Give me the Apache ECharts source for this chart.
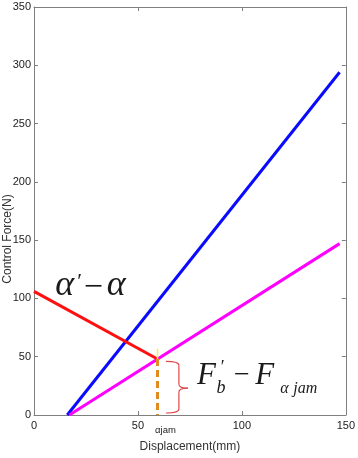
<!DOCTYPE html>
<html><head><meta charset="utf-8">
<script src="https://cdn.jsdelivr.net/npm/echarts@6/dist/echarts.min.js"></script>
<style>html,body{margin:0;padding:0;background:#fff}#c{width:358px;height:458px}</style>
</head><body><div id="c"></div>
<script>
// ---- data ----
var xTicks = [0, 50, 100, 150];
var yTicks = [0, 50, 100, 150, 200, 250, 300, 350];
var blueX = [16, 147];
var blueY = [0, 294];
var magentaX = [17, 147];
var magentaY = [0, 147];
var redX = [0, 59.4];
var redY = [106, 48];
var jamX = 59.4;
var jamDashY = [48, 0];
var jamMarkY = [57, 48];
var xName = 'Displacement(mm)';
var yName = 'Control Force(N)';
var jamLabel = 'αjam';

function pairs(xs, ys){ return xs.map(function(x,i){ return [x, ys[i]]; }); }

var chart = echarts.init(document.getElementById('c'), null, {renderer:'canvas'});
var axisCol = '#7f7f7f';
var labStyle = {color:'#222', fontSize:11, fontFamily:'Liberation Sans, Arial'};
function axisBase(){
  return {
    axisLine:{show:true, onZero:false, lineStyle:{color:axisCol, width:1}},
    axisTick:{show:true, inside:true, length:4, lineStyle:{color:axisCol}},
    splitLine:{show:false}
  };
}
var option = {
  animation:false,
  backgroundColor:'#fff',
  grid:{left:34, right:10, top:7, bottom:41},
  xAxis:[
    Object.assign(axisBase(), {type:'value', min:xTicks[0], max:xTicks[xTicks.length-1], interval:50, position:'bottom',
     axisLabel:{show:true, margin:5, color:labStyle.color, fontSize:labStyle.fontSize, fontFamily:labStyle.fontFamily},
     name:xName, nameLocation:'middle', nameGap:26,
     nameTextStyle:{color:'#333', fontSize:12, fontFamily:'Liberation Sans, Arial'}}),
    Object.assign(axisBase(), {type:'value', min:xTicks[0], max:xTicks[xTicks.length-1], interval:50, position:'top',
     axisLabel:{show:false}})
  ],
  yAxis:[
    Object.assign(axisBase(), {type:'value', min:yTicks[0], max:yTicks[yTicks.length-1], interval:50, position:'left',
     axisLabel:{show:true, margin:3, color:labStyle.color, fontSize:labStyle.fontSize, fontFamily:labStyle.fontFamily}}),
    Object.assign(axisBase(), {type:'value', min:yTicks[0], max:yTicks[yTicks.length-1], interval:50, position:'right',
     axisLabel:{show:false}})
  ],
  series:[
    {type:'line', data:pairs(blueX, blueY), symbol:'none', lineStyle:{color:'#0a0aff', width:3}},
    {type:'line', data:pairs(magentaX, magentaY), symbol:'none', lineStyle:{color:'#ff00ff', width:3}},
    {type:'line', data:pairs(redX, redY), symbol:'none', lineStyle:{color:'#ff1010', width:3}},
    {type:'line', data:pairs([jamX, jamX], jamDashY), symbol:'none', lineStyle:{color:'#e08a20', width:3, type:[7,4]}},
    {type:'line', data:pairs([jamX, jamX], jamMarkY), symbol:'none', lineStyle:{color:'#f6ee4a', width:1.5}}
  ]
};
chart.setOption(option);

function P(x, y){ return chart.convertToPixel({gridIndex:0}, [x, y]); }
var serif = 'Liberation Serif, Times New Roman, serif';
function txt(s, x, y, size, italic, color){
  var p = P(x, y);
  return {type:'text', x:p[0], y:p[1], silent:true,
    style:{text:s, fill:color||'#1a1a1a', font:(italic?'italic ':'')+size+'px '+serif,
      textAlign:'center', textVerticalAlign:'middle'}};
}
// brace in data coordinates
var bL = 63.5, bS = 69.7, bT = 74, yTop = 46, yBot = 1.7, yMid = 23;
var pTL = P(bL, yTop), pTS = P(bS, yTop), pMS = P(bS, yMid), pTip = P(bT, yMid), pBS = P(bS, yBot), pBL = P(bL, yBot);
var r = 4;
var bs = {stroke:'#e04848', lineWidth:1.2, fill:null};
function bez(a, c, b){ return {type:'bezierCurve', silent:true, shape:{x1:a[0], y1:a[1], cpx1:c[0], cpy1:c[1], x2:b[0], y2:b[1]}, style:bs}; }
function seg(a, b){ return {type:'line', silent:true, shape:{x1:a[0], y1:a[1], x2:b[0], y2:b[1]}, style:bs}; }
var brace = [
  bez(pTL, pTS, [pTS[0], pTS[1]+r]),
  seg([pTS[0], pTS[1]+r], [pMS[0], pMS[1]-r]),
  bez([pMS[0], pMS[1]-r], pMS, pTip),
  bez(pTip, pMS, [pMS[0], pMS[1]+r]),
  seg([pMS[0], pMS[1]+r], [pBS[0], pBS[1]-r]),
  bez([pBS[0], pBS[1]-r], pBS, pBL)
];

var pj = P(jamX, 0);
var g = brace.concat([
  // alpha' - alpha
  txt('α', 14.8, 111, 36, true),
  txt('′', 22.0, 113.5, 22, false),
  txt('−', 28.6, 108.5, 34, false),
  txt('α', 39.6, 111, 36, true),
  // F_b' - F_alpha jam
  txt('F', 83, 34, 31, true),
  txt('b', 90, 23, 18, true),
  txt('′', 90.8, 40.5, 18, false),
  txt('−', 100, 34, 28, false),
  txt('F', 111, 34, 31, true),
  txt('α', 120.5, 22.5, 16, true),
  txt('jam', 130.5, 22.5, 16, true),
  {type:'text', x:pj[0]+8, y:pj[1]+15, silent:true,
   style:{text:jamLabel, fill:'#222', font:'9.5px Liberation Sans, Arial', textAlign:'center', textVerticalAlign:'middle'}},
  {type:'text', x:8, y:239, rotation:Math.PI/2, silent:true,
   style:{text:yName, fill:'#333', font:'12px Liberation Sans, Arial', textAlign:'center', textVerticalAlign:'middle'}}
]);
chart.setOption({graphic:{elements:g}});
</script></body></html>
